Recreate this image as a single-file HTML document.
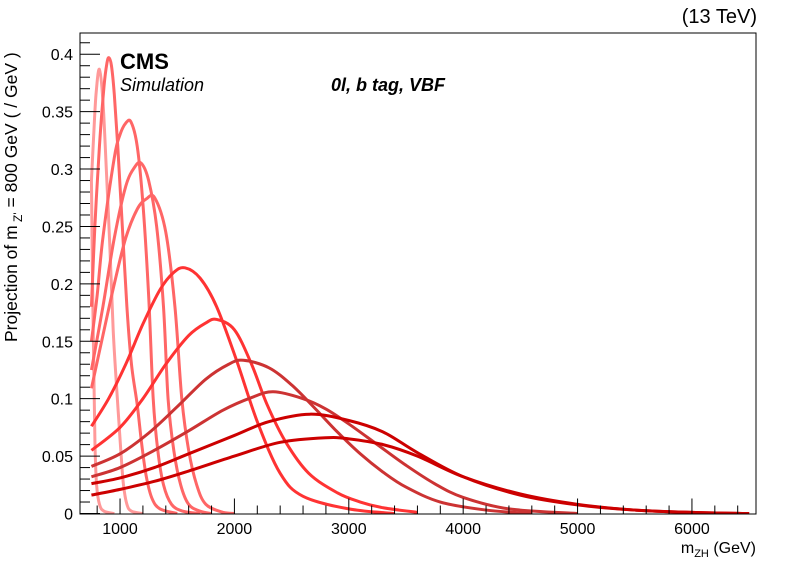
<!DOCTYPE html>
<html><head><meta charset="utf-8">
<style>
html,body{margin:0;padding:0;background:#fff;}
svg{display:block;font-family:"Liberation Sans",Arial,sans-serif;}
</style></head>
<body>
<svg id="chart" width="796" height="572" viewBox="0 0 796 572">
  <defs><clipPath id="plotclip"><rect x="80" y="33" width="676" height="481"/></clipPath></defs>
  <rect x="0" y="0" width="796" height="572" fill="#fff"/>
  <g id="curves" clip-path="url(#plotclip)"></g>
  <rect x="80" y="33" width="676" height="481" fill="none" stroke="#000" stroke-width="1"/>
  <g id="axes"></g>
  <text x="757" y="23" text-anchor="end" font-size="20">(13 TeV)</text>
  <text x="120" y="69" font-size="22" font-weight="bold">CMS</text>
  <text x="120" y="91" font-size="18" font-style="italic">Simulation</text>
  <text x="331" y="91" font-size="18" font-style="italic" font-weight="bold">0l, b tag, VBF</text>
  <text x="756" y="553" text-anchor="end" font-size="16">m<tspan font-size="11" dy="4">ZH</tspan><tspan dy="-4"> (GeV)</tspan></text>
  <text transform="translate(17,342) rotate(-90)" font-size="17.5">Projection of m<tspan font-size="12" dy="5"> Z'</tspan><tspan dy="-5"> = 800 GeV ( / GeV )</tspan></text>
</svg>
<script>
// ---- data ----
const xTickLabels = [1000, 2000, 3000, 4000, 5000, 6000];
const yTickLabels = [0, 0.05, 0.1, 0.15, 0.2, 0.25, 0.3, 0.35, 0.4];
const seriesColors = ["#ff9999","#ff9999","#ff6666","#ff6666","#ff6666","#ff6666","#ff3333","#ff3333","#cc3333","#cc3333","#cc0000","#cc0000"];
const c0x = [750,760,772,781,795,820,860,950];
const c0y = [0.29,0.20,0.116,0.06,0.025,0.008,0.002,0];
const c1x = [750,770,790,819,850,880,912,940,970,990,1010,1030,1060,1100,1200];
const c1y = [0.29,0.33,0.365,0.387,0.36,0.30,0.23,0.16,0.11,0.08,0.05,0.025,0.008,0.002,0];
const c2x = [750,780,820,860,885,903,925,950,980,1020,1060,1100,1150,1190,1230,1280,1350,1500];
const c2y = [0.18,0.25,0.32,0.372,0.392,0.397,0.39,0.365,0.32,0.25,0.18,0.13,0.095,0.06,0.032,0.013,0.004,0];
const c3x = [750,800,850,950,1000,1050,1096,1150,1200,1250,1290,1330,1380,1450,1550,1700];
const c3y = [0.15,0.19,0.24,0.31,0.33,0.34,0.341,0.32,0.27,0.19,0.1,0.055,0.025,0.008,0.002,0];
const c4x = [750,850,950,1050,1130,1186,1250,1320,1380,1420,1470,1530,1600,1700,1800];
const c4y = [0.125,0.18,0.24,0.285,0.302,0.305,0.29,0.25,0.18,0.1,0.055,0.025,0.008,0.002,0];
const c5x = [750,850,950,1050,1150,1230,1303,1400,1480,1540,1600,1670,1750,1900,2000];
const c5y = [0.109,0.155,0.2,0.24,0.265,0.274,0.275,0.245,0.18,0.1,0.055,0.025,0.008,0.001,0];
const c6x = [750,900,1050,1200,1350,1470,1568,1700,1845,2020,2200,2400,2600,3000,3400];
const c6y = [0.076,0.1,0.13,0.165,0.195,0.21,0.214,0.205,0.18,0.133,0.08,0.035,0.015,0.004,0];
const c7x = [750,1000,1200,1400,1600,1750,1845,2000,2150,2285,2450,2650,2900,3100,3300,3600];
const c7y = [0.055,0.075,0.1,0.13,0.155,0.166,0.169,0.16,0.13,0.095,0.062,0.035,0.018,0.01,0.005,0.001];
const c8x = [750,1000,1250,1500,1750,1950,2078,2300,2500,2700,2900,3100,3300,3500,3800,4200,4600];
const c8y = [0.041,0.052,0.07,0.093,0.117,0.13,0.1335,0.127,0.112,0.092,0.071,0.052,0.036,0.023,0.01,0.003,0];
const c9x = [750,1000,1300,1600,1900,2150,2340,2600,2800,3000,3250,3500,3750,4000,4400,5000];
const c9y = [0.032,0.04,0.055,0.072,0.09,0.101,0.106,0.1,0.091,0.078,0.06,0.042,0.026,0.014,0.004,0];
const c10x = [750,1000,1300,1600,2000,2300,2660,3000,3300,3600,4000,4500,5000,5500,6000,6500];
const c10y = [0.026,0.031,0.04,0.052,0.068,0.08,0.0865,0.081,0.071,0.053,0.032,0.016,0.0075,0.003,0.001,0];
const c11x = [750,1000,1300,1600,2000,2400,2800,3000,3300,3600,4000,4500,5000,5500,6000,6500];
const c11y = [0.016,0.021,0.028,0.037,0.05,0.062,0.066,0.065,0.06,0.05,0.032,0.017,0.008,0.003,0.001,0];

const seriesX = [c0x,c1x,c2x,c3x,c4x,c5x,c6x,c7x,c8x,c9x,c10x,c11x];
const seriesY = [c0y,c1y,c2y,c3y,c4y,c5y,c6y,c7y,c8y,c9y,c10y,c11y];

// ---- axes ----
const X0 = 80, X1 = 756, Y0 = 513.5, Y1 = 33;
const xMin = 650, xMax = 6560, yMin = 0, yMax = 0.4185;
function sx(v){ return X0 + (v - xMin) / (xMax - xMin) * (X1 - X0); }
function sy(v){ return Y0 - (v - yMin) / (yMax - yMin) * (Y0 - Y1); }

const NS = "http://www.w3.org/2000/svg";
const axes = document.getElementById("axes");
const curves = document.getElementById("curves");
function mk(tag, attrs, parent){
  const e = document.createElementNS(NS, tag);
  for (const k in attrs) e.setAttribute(k, attrs[k]);
  parent.appendChild(e);
  return e;
}

for (let v = 800; v <= xMax; v += 200) {
  const major = v % 1000 === 0;
  const t = mk("line", {x1: sx(v), x2: sx(v), y1: Y0, y2: Y0 - (major ? 15 : 8), stroke: "#000", "stroke-width": 1}, axes);
  
  
}
xTickLabels.forEach(v => {
  const t = mk("text", {x: sx(v), y: 534, "text-anchor": "middle", "font-size": 16}, axes);
  t.textContent = v;
  
  
});
for (let i = 0; i <= 41; i++) {
  const v = i * 0.01;
  const major = i % 5 === 0;
  const t = mk("line", {x1: X0, x2: X0 + (major ? 20 : 10), y1: sy(v), y2: sy(v), stroke: "#000", "stroke-width": 1}, axes);
  
  
}
yTickLabels.forEach(v => {
  const t = mk("text", {x: 73, y: sy(v) + 6, "text-anchor": "end", "font-size": 16}, axes);
  t.textContent = String(v);
  
  
});

function pathFor(xs, ys){
  const p = xs.map((x, i) => [sx(x), sy(ys[i])]);
  let d = "M" + p[0][0].toFixed(2) + "," + p[0][1].toFixed(2);
  for (let i = 0; i < p.length - 1; i++) {
    const a = p[i - 1] || p[i], b = p[i], c = p[i + 1], e = p[i + 2] || c;
    const c1 = [b[0] + (c[0] - a[0]) / 6, b[1] + (c[1] - a[1]) / 6];
    const c2 = [c[0] - (e[0] - b[0]) / 6, c[1] - (e[1] - b[1]) / 6];
    c1[1] = Math.min(c1[1], Y0); c2[1] = Math.min(c2[1], Y0);
    d += " C" + c1[0].toFixed(2) + "," + c1[1].toFixed(2) + " " + c2[0].toFixed(2) + "," + c2[1].toFixed(2) + " " + c[0].toFixed(2) + "," + c[1].toFixed(2);
  }
  return d;
}
seriesX.forEach((xs, i) => {
  const el = mk("path", {d: pathFor(xs, seriesY[i]), fill: "none", stroke: seriesColors[i], "stroke-width": 3, "stroke-linejoin": "round"}, curves);
  
  
});
</script>
</body></html>
